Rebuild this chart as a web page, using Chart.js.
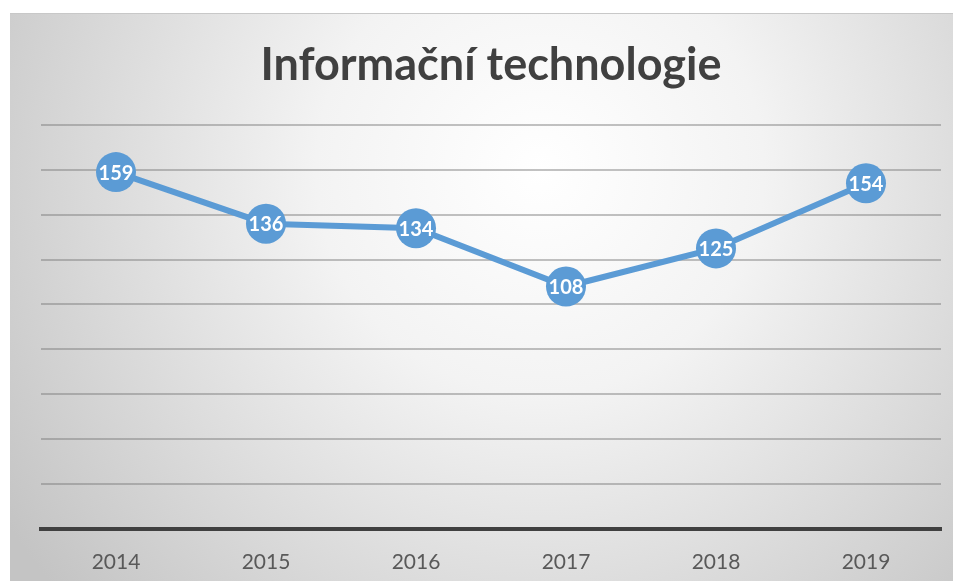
<!DOCTYPE html>
<html>
<head>
<meta charset="utf-8">
<script src="https://cdn.jsdelivr.net/npm/chart.js@4/dist/chart.umd.min.js"></script>
<style>
html,body{margin:0;padding:0;background:#fff;}
#wrap{position:absolute;left:0;top:0;width:959px;height:581px;}
</style>
</head>
<body>
<div id="wrap"><canvas id="c" width="959" height="581"></canvas></div>
<script>
const titleText = "Informační technologie";
const categories = ["2014", "2015", "2016", "2017", "2018", "2019"];
const values = [159, 136, 134, 108, 125, 154];
const yMin = 0, yMax = 180, yStep = 20;

const bgPlugin = {
  id: 'bg',
  beforeDraw(chart) {
    const ctx = chart.ctx;
    ctx.save();
    ctx.fillStyle = '#ffffff';
    ctx.fillRect(0, 0, chart.width, chart.height);
    const g = ctx.createRadialGradient(540, 170, 0, 540, 170, 640);
    g.addColorStop(0, '#ffffff');
    g.addColorStop(0.35, '#f3f3f3');
    g.addColorStop(1, '#c4c4c4');
    ctx.fillStyle = g;
    ctx.fillRect(10, 13, 943, 568);
    ctx.fillStyle = '#c8c8c8';
    ctx.fillRect(10, 13, 943, 1);
    ctx.restore();
  }
};

const labelPlugin = {
  id: 'vlabels',
  afterDatasetsDraw(chart) {
    const ctx = chart.ctx;
    const meta = chart.getDatasetMeta(0);
    ctx.save();
    ctx.font = 'bold 20px Lato, "Open Sans", sans-serif';
    ctx.fillStyle = '#ffffff';
    ctx.textAlign = 'center';
    ctx.textBaseline = 'middle';
    meta.data.forEach((pt, i) => {
      ctx.fillText(String(values[i]), pt.x, pt.y + 1);
    });
    ctx.restore();
  }
};

new Chart(document.getElementById('c'), {
  type: 'line',
  data: {
    labels: categories,
    datasets: [{
      data: values,
      borderColor: '#5b9bd5',
      backgroundColor: '#5b9bd5',
      borderWidth: 6,
      pointRadius: 20,
      pointHoverRadius: 20,
      pointBackgroundColor: '#5b9bd5',
      pointBorderColor: '#5b9bd5',
      pointBorderWidth: 0,
      tension: 0,
      fill: false
    }]
  },
  options: {
    responsive: false,
    animation: false,
    events: [],
    layout: { autoPadding: false, padding: { left: 41, right: 18, top: 0, bottom: -15 } },
    plugins: {
      legend: { display: false },
      tooltip: { enabled: false },
      title: {
        display: true,
        text: titleText,
        color: '#404040',
        font: { family: 'Lato, "Open Sans", sans-serif', size: 45, weight: 'bold', lineHeight: 1.2 },
        padding: { top: 38, bottom: 33 }
      }
    },
    scales: {
      x: {
        offset: true,
        grid: { display: false, drawTicks: false },
        border: { display: true, color: '#404040', width: 4 },
        ticks: { color: '#595959', font: { family: 'Lato, "Open Sans", sans-serif', size: 21 }, padding: 21 }
      },
      y: {
        min: yMin, max: yMax,
        ticks: { display: false, stepSize: yStep },
        border: { display: false },
        grid: {
          drawTicks: false,
          lineWidth: 2,
          color: (c) => c.tick && c.tick.value === 0 ? 'rgba(0,0,0,0)' : 'rgba(120,120,120,0.45)'
        }
      }
    }
  },
  plugins: [bgPlugin, labelPlugin]
});
</script>
</body>
</html>
